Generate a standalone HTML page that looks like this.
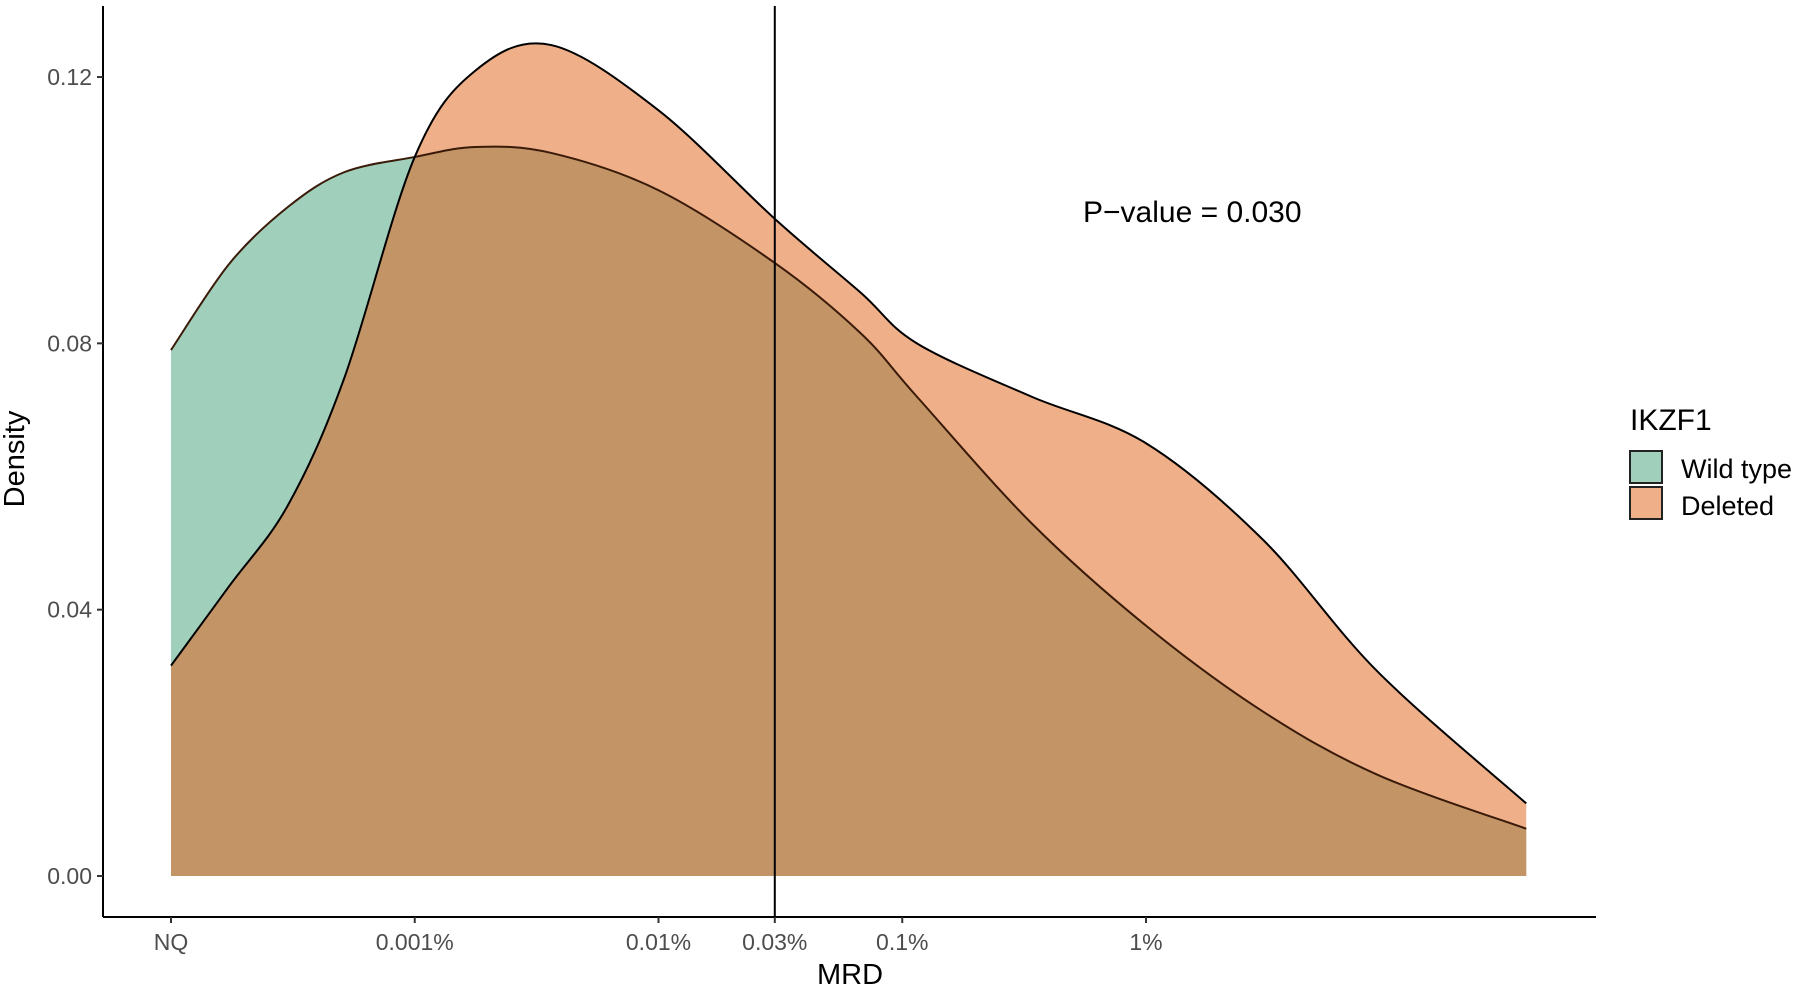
<!DOCTYPE html>
<html><head><meta charset="utf-8">
<style>
html,body{margin:0;padding:0;background:#fff;}
svg{display:block;font-family:"Liberation Sans",Arial,sans-serif;}
</style></head>
<body>
<svg id="chart" width="1800" height="986" viewBox="0 0 1800 986" xmlns="http://www.w3.org/2000/svg">
<defs><clipPath id="clipDel"><path id="clipPathDel" d=""/></clipPath></defs>
<g id="plot"></g>
<line x1="103" y1="6" x2="103" y2="917" stroke="#000" stroke-width="2"/>
<line x1="103" y1="917" x2="1596" y2="917" stroke="#000" stroke-width="2"/>
<g id="yticks"></g>
<g id="xticks"></g>
<text x="0" y="0" transform="translate(24,459) rotate(-90)" text-anchor="middle" font-size="29" fill="#000">Density</text>
<text x="850" y="984" text-anchor="middle" font-size="29" fill="#000">MRD</text>
<text x="1083" y="222" font-size="30" fill="#000">P−value = 0.030</text>
<g>
<text x="1630" y="430" font-size="30" fill="#000">IKZF1</text>
<rect x="1630" y="451" width="32" height="32" fill="#a0cfbc" stroke="#222" stroke-width="2"/>
<rect x="1630" y="487" width="32" height="32" fill="#efb089" stroke="#222" stroke-width="2"/>
<text x="1681" y="478" font-size="27" fill="#000">Wild type</text>
<text x="1681" y="515" font-size="27" fill="#000">Deleted</text>
</g>
</svg>
<script>
// x positions: log10 of MRD percent (NQ placed at -4)
const xGrid = [-4, -3.76, -3.52, -3.29, -3, -2.75, -2.44, -2.0, -1.52, -1.17, -0.94, -0.47, 0, 0.48, 0.95, 1.56];
const wildType = [0.079, 0.092, 0.1005, 0.1057, 0.108, 0.1095, 0.1086, 0.103, 0.092, 0.0815, 0.072, 0.053, 0.0376, 0.0247, 0.0152, 0.0071];
const deleted = [0.0316, 0.0436, 0.0557, 0.0747, 0.108, 0.121, 0.1248, 0.115, 0.0986, 0.0876, 0.080, 0.072, 0.065, 0.0505, 0.0307, 0.0109];
const xTickVals = [-4, -3, -2, -1.5229, -1, 0];
const xTickLabels = ["NQ", "0.001%", "0.01%", "0.03%", "0.1%", "1%"];
const yTickVals = [0, 0.04, 0.08, 0.12];
const yTickLabels = ["0.00", "0.04", "0.08", "0.12"];
const cutoff = -1.5229;

const NS = "http://www.w3.org/2000/svg";
function sx(u){ return 171 + (u + 4) * 243.75; }
function sy(d){ return 876 - d * 6658; }

function smoothPath(xs, ys){
  const p = xs.map((x,i)=>[sx(x), sy(ys[i])]);
  let d = "M" + p[0][0] + "," + p[0][1];
  for (let i=0;i<p.length-1;i++){
    const p0=p[Math.max(0,i-1)], p1=p[i], p2=p[i+1], p3=p[Math.min(p.length-1,i+2)];
    const c1=[p1[0]+(p2[0]-p0[0])/6, p1[1]+(p2[1]-p0[1])/6];
    const c2=[p2[0]-(p3[0]-p1[0])/6, p2[1]-(p3[1]-p1[1])/6];
    d += " C"+c1[0]+","+c1[1]+" "+c2[0]+","+c2[1]+" "+p2[0]+","+p2[1];
  }
  return d;
}
function area(xs, ys){
  const x0=sx(xs[0]), x1=sx(xs[xs.length-1]), y0=sy(0);
  return "M"+x0+","+y0+" L"+smoothPath(xs,ys).slice(1)+" L"+x1+","+y0+" Z";
}
const plot = document.getElementById("plot");
function mk(tag, attrs){
  const e=document.createElementNS(NS,tag);
  for (const k in attrs) e.setAttribute(k, attrs[k]);
  return e;
}
const wildArea = mk("path",{d:area(xGrid,wildType),fill:"#a0cfbc"});


plot.appendChild(wildArea);
const delArea = mk("path",{d:area(xGrid,deleted),fill:"#efb089"});


plot.appendChild(delArea);
document.getElementById("clipPathDel").setAttribute("d", area(xGrid,deleted));
const overlap = mk("path",{d:area(xGrid,wildType),fill:"#c39466","clip-path":"url(#clipDel)"});


plot.appendChild(overlap);
const wildLine = mk("path",{d:smoothPath(xGrid,wildType),fill:"none",stroke:"#3a1a08","stroke-width":"2"});


plot.appendChild(wildLine);
const delLine = mk("path",{d:smoothPath(xGrid,deleted),fill:"none",stroke:"#000","stroke-width":"2"});


plot.appendChild(delLine);
const vline = mk("line",{x1:sx(cutoff),x2:sx(cutoff),y1:6,y2:917,stroke:"#000","stroke-width":"2"});


plot.appendChild(vline);

const yt=document.getElementById("yticks");
yTickVals.forEach((v,i)=>{
  const l=mk("line",{x1:97,x2:103,y1:sy(v),y2:sy(v),stroke:"#333","stroke-width":"2"});
  
  
  yt.appendChild(l);
  const t=mk("text",{x:92,y:sy(v)+8,"text-anchor":"end","font-size":"23",fill:"#4d4d4d"});
  
  
  t.textContent=yTickLabels[i];
  yt.appendChild(t);
});
const xt=document.getElementById("xticks");
xTickVals.forEach((v,i)=>{
  const l=mk("line",{x1:sx(v),x2:sx(v),y1:917,y2:923,stroke:"#333","stroke-width":"2"});
  
  
  xt.appendChild(l);
  const t=mk("text",{x:sx(v),y:950,"text-anchor":"middle","font-size":"23",fill:"#4d4d4d"});
  
  
  t.textContent=xTickLabels[i];
  xt.appendChild(t);
});
</script>
</body></html>
